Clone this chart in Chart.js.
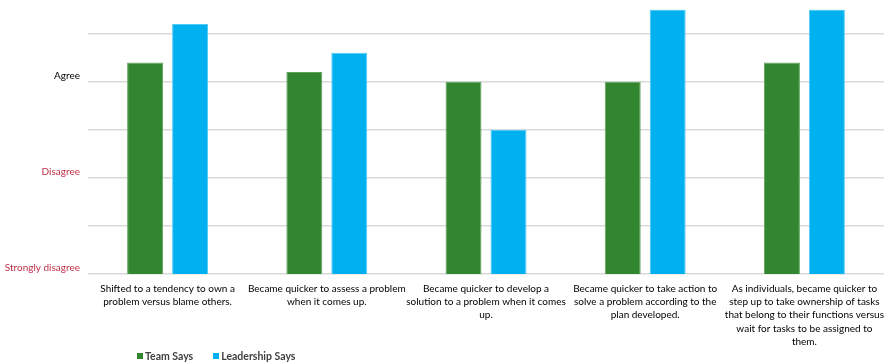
<!DOCTYPE html>
<html>
<head>
<meta charset="utf-8">
<script src="https://cdn.jsdelivr.net/npm/chart.js@4.4.1/dist/chart.umd.min.js"></script>
<style>
  html, body { margin: 0; padding: 0; background: #fff; overflow: hidden; }
  #wrap { position: relative; width: 892px; height: 362px; }
  #legend { position: absolute; top: 350px; left: 137px; font-family: Lato, "Open Sans", sans-serif;
            font-size: 10.5px; font-weight: bold; color: #404040; white-space: nowrap; }
  #legend span.item { display: inline-block; margin-right: 20px; }
  #legend span.box { display: inline-block; width: 6px; height: 6px; margin-right: 2px; vertical-align: 1px; }
</style>
</head>
<body>
<div id="wrap">
  <canvas id="c" width="892" height="362"></canvas>
  <div id="legend"></div>
</div>
<script>
// Survey statements (wrapped onto lines as they appear under the axis)
const categories = [
  ["Shifted to a tendency to own a", "problem versus blame others."],
  ["Became quicker to assess a problem", "when it comes up."],
  ["Became quicker to develop a", "solution to a problem when it comes", "up."],
  ["Became quicker to take action to", "solve a problem according to the", "plan developed."],
  ["As individuals, became quicker to", "step up to take ownership of tasks", "that belong to their functions versus", "wait for tasks to be assigned to", "them."]
];

// Average rating: 1 = Strongly disagree, 2 = Disagree, 3 = Agree
const teamSays = [3.2, 3.1, 3.0, 3.0, 3.2];
const leadershipSays = [3.6, 3.3, 2.5, 3.75, 3.75];

const seriesNames = ["Team Says", "Leadership Says"];
const seriesColors = ["#338630", "#00B0EF"];
const seriesBorders = ["#5EA35A", "#4FCBF5"];

// Rating scale labels shown on the value axis
const scaleValues = [1, 2, 3];
const scaleLabels = ["Strongly disagree", "Disagree", "Agree"];
const scaleColors = ["#C0304A", "#C0304A", "#000000"];

const FONT = "Lato, 'Open Sans', sans-serif";

new Chart(document.getElementById('c'), {
  type: 'bar',
  data: {
    labels: categories,
    datasets: [
      { label: seriesNames[0], data: teamSays, backgroundColor: seriesColors[0],
        borderColor: seriesBorders[0], borderWidth: 1,
        categoryPercentage: 0.565, barPercentage: 0.8 },
      { label: seriesNames[1], data: leadershipSays, backgroundColor: seriesColors[1],
        borderColor: seriesBorders[1], borderWidth: 1,
        categoryPercentage: 0.565, barPercentage: 0.8 }
    ]
  },
  options: {
    responsive: false,
    animation: false,
    layout: { padding: { top: 9.5, left: 0, right: 0, bottom: 0 } },
    plugins: { legend: { display: false }, tooltip: { enabled: false } },
    scales: {
      x: {
        grid: { display: false, drawTicks: false },
        border: { display: false },
        ticks: {
          autoSkip: false, maxRotation: 0, minRotation: 0, padding: 8,
          color: '#000', font: { family: FONT, size: 10, lineHeight: 1.33 }
        },
        afterFit: s => { s.height = 88; }
      },
      y: {
        min: 1, max: 3.75,
        grid: { color: '#DADADA', lineWidth: 1.5, drawTicks: false },
        border: { display: false },
        afterBuildTicks: s => { s.ticks = s.ticks.filter(t => t.value <= 3.5); },
        ticks: {
          stepSize: 0.5, padding: 8, labelOffset: -6,
          font: { family: FONT, size: 10 },
          color: ctx => {
            const i = scaleValues.indexOf(ctx.tick.value);
            return i >= 0 ? scaleColors[i] : '#000';
          },
          callback: v => {
            const i = scaleValues.indexOf(v);
            return i >= 0 ? scaleLabels[i] : '';
          }
        },
        afterFit: s => { s.width = 88; s.paddingTop = 0; s.paddingBottom = 0; }
      }
    }
  }
});

// Legend below the chart
const legend = document.getElementById('legend');
seriesNames.forEach((name, i) => {
  const item = document.createElement('span');
  item.className = 'item';
  const box = document.createElement('span');
  box.className = 'box';
  box.style.background = seriesColors[i];
  item.appendChild(box);
  item.appendChild(document.createTextNode(name));
  legend.appendChild(item);
});
</script>
</body>
</html>
